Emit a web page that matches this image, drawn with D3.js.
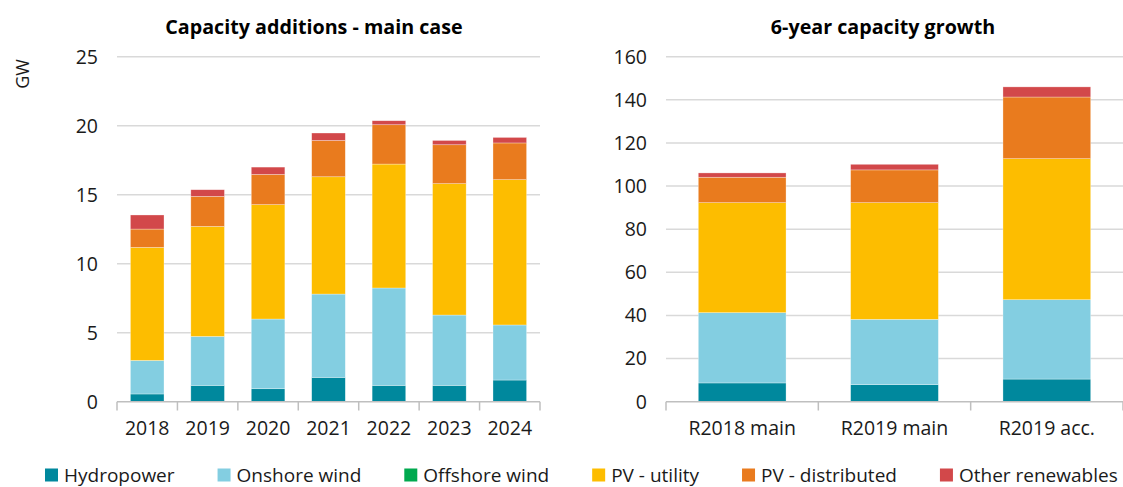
<!DOCTYPE html>
<html>
<head>
<meta charset="utf-8">
<script src="https://cdn.jsdelivr.net/npm/d3@7"></script>
<style>
  body { margin: 0; background: #fff; }
  svg { display: block; font-family: "Open Sans", "Noto Sans", sans-serif; }
</style>
</head>
<body>
<svg id="chart" width="1123" height="487"></svg>
<script>
// series names and colours
var series = ["Hydropower", "Onshore wind", "Offshore wind", "PV - utility", "PV - distributed", "Other renewables"];
var colors = ["#00889d", "#83cee1", "#00a94f", "#fdbd00", "#e97b1e", "#d2484a"];

// left panel: annual additions (GW)
var years = ["2018", "2019", "2020", "2021", "2022", "2023", "2024"];
var hydroYear    = [0.56, 1.18, 0.94, 1.76, 1.18, 1.18, 1.57];
var onshoreYear  = [2.43, 3.55, 5.05, 6.04, 7.06, 5.10, 3.99];
var offshoreYear = [0, 0, 0, 0, 0, 0, 0];
var pvUtilYear   = [8.19, 7.97, 8.29, 8.50, 8.98, 9.52, 10.53];
var pvDistYear   = [1.33, 2.18, 2.19, 2.63, 2.85, 2.82, 2.66];
var otherYear    = [1.02, 0.48, 0.53, 0.54, 0.29, 0.31, 0.40];
var leftTicks = [0, 5, 10, 15, 20, 25];

// right panel: 6-year growth (GW)
var cases = ["R2018 main", "R2019 main", "R2019 acc."];
var hydroCase    = [8.7, 7.9, 10.5];
var onshoreCase  = [32.6, 30.3, 36.8];
var offshoreCase = [0, 0, 0];
var pvUtilCase   = [51.0, 54.1, 65.4];
var pvDistCase   = [11.8, 15.2, 28.6];
var otherCase    = [2.0, 2.6, 4.7];
var rightTicks = [0, 20, 40, 60, 80, 100, 120, 140, 160];

var svg = d3.select("#chart");
var textColor = "#1a1a1a";

function rows(cats, cols) {
  return cats.map(function (c, i) {
    var r = { cat: c };
    series.forEach(function (s, j) { r[s] = cols[j][i]; });
    return r;
  });
}

function panel(opts) {
  var g = svg.append("g");
  var x = d3.scaleBand()
    .domain(opts.cats)
    .range([opts.x0, opts.x1])
    .paddingInner(opts.pad)
    .paddingOuter(opts.pad / 2);
  var y = d3.scaleLinear().domain([0, opts.max]).range([401.7, 56.7]);

  // gridlines
  g.selectAll(".grid")
    .data(opts.ticks.filter(function (t) { return t > 0; }))
    .join("line")
    .attr("x1", opts.x0).attr("x2", opts.x1)
    .attr("y1", function (d) { return y(d); }).attr("y2", function (d) { return y(d); })
    .attr("stroke", "#d9d9d9").attr("stroke-width", 1.5);

  // y labels
  g.selectAll(".ylab")
    .data(opts.ticks)
    .join("text")
    .attr("x", opts.x0 - 19)
    .attr("y", function (d) { return y(d); })
    .attr("dy", "0.35em")
    .attr("text-anchor", "end")
    .attr("font-size", 19.5)
    .attr("fill", textColor)
    .text(function (d) { return d; });

  var stacked = d3.stack().keys(series)(rows(opts.cats, opts.cols));
  g.selectAll(".layer")
    .data(stacked)
    .join("g")
    .attr("fill", function (d, i) { return colors[i]; })
    .selectAll("rect")
    .data(function (d) { return d; })
    .join("rect")
    .attr("x", function (d) { return x(d.data.cat); })
    .attr("width", x.bandwidth())
    .attr("y", function (d) { return y(d[1]); })
    .attr("height", function (d) { return y(d[0]) - y(d[1]); })
    .attr("stroke", "#fff").attr("stroke-width", 0.6).attr("stroke-opacity", 0.5);

  // x axis line and tick marks at category boundaries
  g.append("line")
    .attr("x1", opts.x0).attr("x2", opts.x1)
    .attr("y1", 401.7).attr("y2", 401.7)
    .attr("stroke", "#bfbfbf").attr("stroke-width", 1.5);
  var bounds = opts.cats.map(function (c) { return x(c) - x.step() * opts.pad / 2; });
  bounds.push(opts.x1);
  g.selectAll(".tk")
    .data(bounds)
    .join("line")
    .attr("x1", function (d) { return d; }).attr("x2", function (d) { return d; })
    .attr("y1", 401.7).attr("y2", 410.5)
    .attr("stroke", "#bfbfbf").attr("stroke-width", 1.5);

  g.selectAll(".xlab")
    .data(opts.cats)
    .join("text")
    .attr("x", function (d) { return x(d) + x.bandwidth() / 2; })
    .attr("y", 435)
    .attr("text-anchor", "middle")
    .attr("font-size", 19.5)
    .attr("fill", textColor)
    .text(function (d) { return d; });

  g.append("text")
    .attr("x", opts.titleX)
    .attr("y", 34)
    .attr("text-anchor", "middle")
    .attr("font-size", 19.7)
    .attr("font-weight", "bold")
    .attr("fill", "#000")
    .text(opts.title);
}

panel({
  cats: years, x0: 117, x1: 540, pad: 0.444, max: 25, ticks: leftTicks,
  cols: [hydroYear, onshoreYear, offshoreYear, pvUtilYear, pvDistYear, otherYear],
  title: "Capacity additions - main case", titleX: 314
});
panel({
  cats: cases, x0: 666, x1: 1123, pad: 0.424, max: 160, ticks: rightTicks,
  cols: [hydroCase, onshoreCase, offshoreCase, pvUtilCase, pvDistCase, otherCase],
  title: "6-year capacity growth", titleX: 883
});

// unit label
svg.append("text")
  .attr("transform", "translate(29,74) rotate(-90)")
  .attr("text-anchor", "middle")
  .attr("font-size", 18)
  .attr("fill", textColor)
  .text("GW");

// legend, laid out from measured text widths
var legend = svg.append("g");
var lx = 45;
series.forEach(function (s, i) {
  legend.append("rect")
    .attr("x", lx).attr("y", 468.5)
    .attr("width", 13).attr("height", 13)
    .attr("fill", colors[i]);
  var t = legend.append("text")
    .attr("x", lx + 19).attr("y", 481.5)
    .attr("font-size", 19)
    .attr("fill", textColor)
    .text(s);
  lx += 19 + t.node().getComputedTextLength() + 43;
});
</script>
</body>
</html>
